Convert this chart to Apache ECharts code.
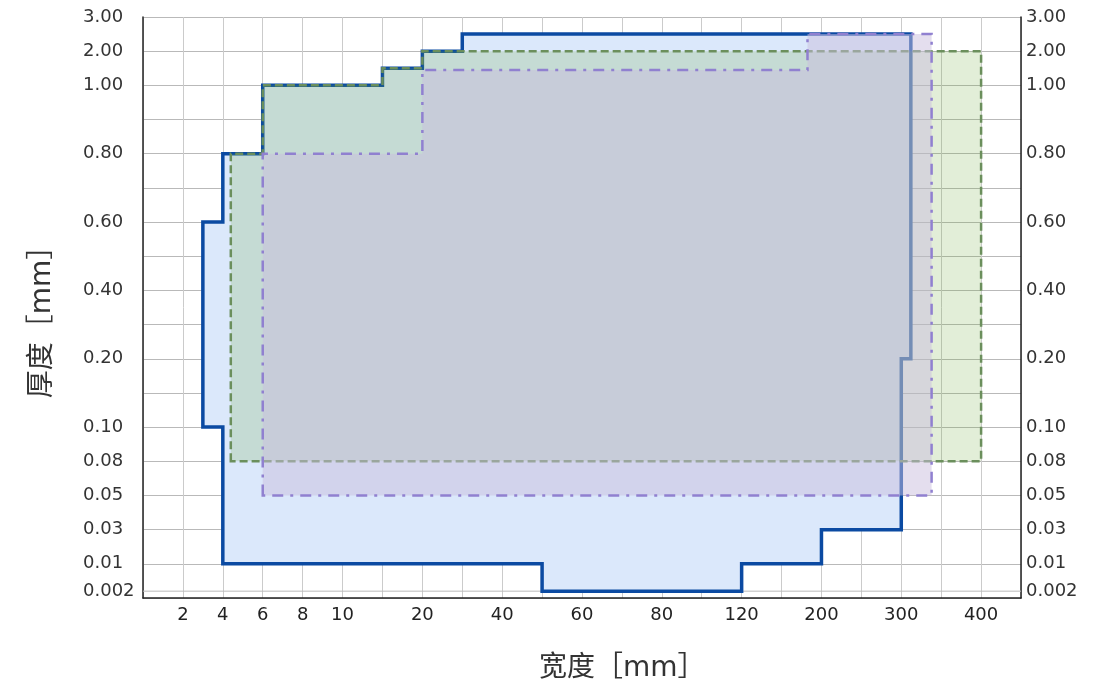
<!DOCTYPE html>
<html>
<head>
<meta charset="utf-8">
<script src="https://cdn.jsdelivr.net/npm/echarts@6/dist/echarts.min.js"></script>
<style>
  html, body { margin: 0; padding: 0; background: #ffffff; }
  #chart { width: 1093px; height: 684px; }
</style>
</head>
<body>
<div id="chart"></div>
<script>
// ---- Scale stops (value at each gridline, in order) ----
const xScaleStops = [0, 2, 4, 6, 8, 10, 15, 20, 30, 40, 50, 60, 70, 80, 100, 120, 160, 200, 250, 300, 350, 400, 450];
const yScaleStops = [0, 0.01, 0.03, 0.05, 0.08, 0.10, 0.15, 0.20, 0.30, 0.40, 0.50, 0.60, 0.70, 0.80, 0.90, 1.00, 2.00, 3.00];

// ---- Tick labels ----
const xLabelVals = [2, 4, 6, 8, 10, 20, 40, 60, 80, 120, 200, 300, 400];
const xLabelTexts = ['2', '4', '6', '8', '10', '20', '40', '60', '80', '120', '200', '300', '400'];
const yLabelVals = [0.002, 0.01, 0.03, 0.05, 0.08, 0.10, 0.20, 0.40, 0.60, 0.80, 1.00, 2.00, 3.00];
const yLabelTexts = ['0.002', '0.01', '0.03', '0.05', '0.08', '0.10', '0.20', '0.40', '0.60', '0.80', '1.00', '2.00', '3.00'];

// ---- Axis titles ----
const xTitle = '宽度［mm］';
const yTitle = '厚度［mm］';

// ---- Series data (width [mm], thickness [mm]) ----
const blueX = [4, 4, 3, 3, 4, 4, 6, 6, 15, 15, 20, 20, 30, 30, 312, 312, 300, 300, 200, 200, 120, 120, 50, 50];
const blueY = [0.01, 0.10, 0.10, 0.60, 0.60, 0.80, 0.80, 1.00, 1.00, 1.5, 1.5, 2.0, 2.0, 2.5, 2.5, 0.20, 0.20, 0.03, 0.03, 0.01, 0.01, 0.002, 0.002, 0.01];
const greenX = [4.4, 4.4, 6, 6, 15, 15, 20, 20, 400, 400];
const greenY = [0.08, 0.80, 0.80, 1.00, 1.00, 1.5, 1.5, 2.0, 2.0, 0.08];
const purpleX = [6, 6, 20, 20, 186, 186, 338, 338];
const purpleY = [0.05, 0.80, 0.80, 1.45, 1.45, 2.5, 2.5, 0.05];

// piecewise-linear custom scale: value -> axis unit
function mapStops(stops, offset) {
  return function (v) {
    for (let i = 0; i < stops.length - 1; i++) {
      if (v >= stops[i] && v <= stops[i + 1]) {
        return offset + i + (v - stops[i]) / (stops[i + 1] - stops[i]);
      }
    }
    return v < stops[0] ? offset : offset + stops.length - 1;
  };
}
const toUx = mapStops(xScaleStops, 0);
const toUy = mapStops(yScaleStops, -1);

function toPoints(xs, ys) { return xs.map((x, i) => [toUx(x), toUy(ys[i])]); }
function labelLookup(vals, texts, map) {
  return function (v) {
    for (let i = 0; i < vals.length; i++) {
      if (Math.abs(map(vals[i]) - v) < 1e-6) return texts[i];
    }
    return '';
  };
}

function polygonSeries(name, pts, style) {
  return {
    type: 'custom',
    name: name,
    silent: true,
    clip: false,
    data: pts,
    encode: { x: 0, y: 1 },
    renderItem: function (params, api) {
      if (params.dataIndex !== 0) return null;
      const coords = pts.map(p => api.coord(p));
      return {
        type: 'polygon',
        shape: { points: coords },
        style: Object.assign({ lineJoin: 'miter' }, style)
      };
    }
  };
}

const chart = echarts.init(document.getElementById('chart'), null, { renderer: 'canvas' });

const uMin = -1, uMax = yScaleStops.length - 2;
const xMax = xScaleStops.length - 1;
const labelFont = 'DejaVu Sans';
const titleFont = "'DejaVu Sans', 'Noto Sans CJK SC'";

const option = {
  animation: false,
  backgroundColor: '#ffffff',
  grid: { left: 143, right: 72, top: 17, bottom: 86, containLabel: false },
  graphic: [
    {
      type: 'text', x: 539, y: 669, silent: true,
      style: { text: xTitle, fontSize: 28, fontFamily: titleFont, fill: '#333', align: 'left', verticalAlign: 'middle' }
    },
    {
      type: 'text', x: 43, y: 315, rotation: Math.PI / 2, silent: true,
      style: { text: yTitle, fontSize: 28, fontFamily: titleFont, fill: '#333', align: 'center', verticalAlign: 'middle' }
    }
  ],
  xAxis: {
    type: 'value', min: 0, max: xMax, interval: 1,
    axisLine: { show: true, onZero: false, lineStyle: { color: '#222', width: 1.5 } },
    axisTick: { show: false },
    splitLine: { show: true, lineStyle: { color: '#cbcbcb', width: 1 } },
    axisLabel: {
      customValues: xLabelVals.map(toUx),
      formatter: labelLookup(xLabelVals, xLabelTexts, toUx),
      fontSize: 18, color: '#222', margin: 8, fontFamily: labelFont
    }
  },
  yAxis: [
    {
      type: 'value', min: uMin, max: uMax, interval: 1, position: 'left',
      axisLine: { show: true, onZero: false, lineStyle: { color: '#222', width: 1.5 } },
      axisTick: { show: false },
      splitLine: { show: true, lineStyle: { color: '#b9b9b9', width: 1 } },
      axisLabel: {
        customValues: yLabelVals.map(toUy),
        formatter: labelLookup(yLabelVals, yLabelTexts, toUy),
        fontSize: 18, color: '#333', margin: 60, align: 'left', fontFamily: labelFont
      }
    },
    {
      type: 'value', min: uMin, max: uMax, interval: 1, position: 'right',
      axisLine: { show: true, onZero: false, lineStyle: { color: '#222', width: 1.5 } },
      axisTick: { show: false },
      splitLine: { show: false },
      axisLabel: {
        customValues: yLabelVals.map(toUy),
        formatter: labelLookup(yLabelVals, yLabelTexts, toUy),
        fontSize: 18, color: '#333', margin: 5, fontFamily: labelFont
      }
    }
  ],
  series: [
    {
      type: 'custom', name: 'grid0002', silent: true,
      data: [[0, toUy(0.002)]],
      encode: { x: 0, y: 1 },
      renderItem: function (params, api) {
        const p = api.coord([0, api.value(1)]);
        const cs = params.coordSys;
        return {
          type: 'line',
          shape: { x1: cs.x, y1: p[1], x2: cs.x + cs.width, y2: p[1] },
          style: { stroke: '#b9b9b9', lineWidth: 1 }
        };
      }
    },
    polygonSeries('blue', toPoints(blueX, blueY), {
      fill: '#dbe8fb', stroke: '#0b4aa2', lineWidth: 3.5
    }),
    polygonSeries('green', toPoints(greenX, greenY), {
      fill: 'rgba(110,170,60,0.2)', stroke: '#6b8f5c', lineWidth: 2.5, lineDash: [8, 4]
    }),
    polygonSeries('purple', toPoints(purpleX, purpleY), {
      fill: 'rgba(201,189,221,0.5)', stroke: '#9080d0', lineWidth: 2.5, lineDash: [11, 7, 3, 7]
    })
  ]
};

chart.setOption(option);
</script>
</body>
</html>
